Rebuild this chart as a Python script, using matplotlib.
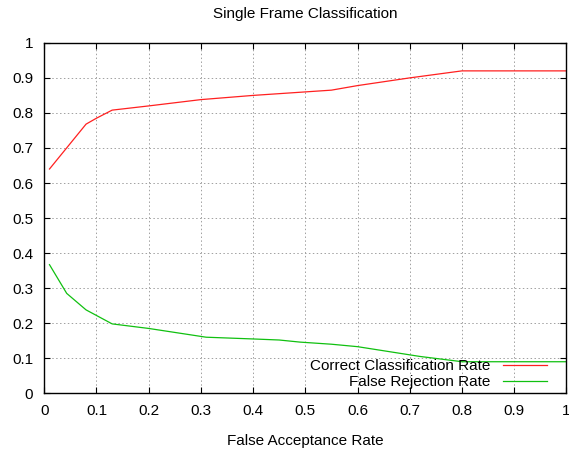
import matplotlib

matplotlib.use("Agg")
import matplotlib.pyplot as plt
from matplotlib.ticker import FuncFormatter

plt.rcParams["font.family"] = ["Liberation Sans", "DejaVu Sans"]

# Correct classification rate vs false acceptance rate
far_correct = [0.01, 0.08, 0.10, 0.13, 0.20, 0.30, 0.40, 0.50, 0.55, 0.60, 0.70, 0.80, 1.00]
correct_rate = [0.64, 0.768, 0.785, 0.808, 0.82, 0.838, 0.85, 0.86, 0.865, 0.878, 0.90, 0.92, 0.92]

# False rejection rate vs false acceptance rate
far_reject = [0.01, 0.043, 0.08, 0.13, 0.20, 0.31, 0.40, 0.45, 0.49, 0.55, 0.60, 0.72, 0.79, 0.80, 1.00]
reject_rate = [0.367, 0.285, 0.238, 0.198, 0.185, 0.16, 0.155, 0.152, 0.146, 0.14, 0.133, 0.105, 0.092, 0.09, 0.09]

ticks = [0, 0.1, 0.2, 0.3, 0.4, 0.5, 0.6, 0.7, 0.8, 0.9, 1]

fig = plt.figure(figsize=(5.69, 4.51), dpi=100)
ax = fig.add_axes([0.0778, 0.128, 0.9175, 0.777])

ax.plot(far_correct, correct_rate, color="#ff2020", linewidth=0.9,
        label="Correct Classification Rate")
ax.plot(far_reject, reject_rate, color="#10c010", linewidth=0.9,
        label="False Rejection Rate")

ax.set_xlim(0, 1)
ax.set_ylim(0, 1)
ax.set_xticks(ticks)
ax.set_yticks(ticks)
fmt = FuncFormatter(lambda v, _: f"{v:g}")
ax.xaxis.set_major_formatter(fmt)
ax.yaxis.set_major_formatter(fmt)
ax.tick_params(direction="in", top=True, right=True, length=4, width=0.8,
               labelsize=11, colors="black", pad=8)
ax.grid(True, color="#a0a0a0", linestyle=(0, (1.5, 2.5)), linewidth=0.7)
for s in ax.spines.values():
    s.set_linewidth(1.0)

ax.set_title("Single Frame Classification", fontsize=11, pad=18)
ax.set_xlabel("False Acceptance Rate", fontsize=11, labelpad=11)

leg = ax.legend(loc="lower right", bbox_to_anchor=(0.963, 0.012),
                frameon=False, fontsize=11, markerfirst=False,
                handlelength=2.9, borderpad=0, borderaxespad=0,
                labelspacing=0.12, handletextpad=0.8)
for t in leg.get_texts():
    t.set_ha("right")

fig.savefig("out.png", dpi=100)
